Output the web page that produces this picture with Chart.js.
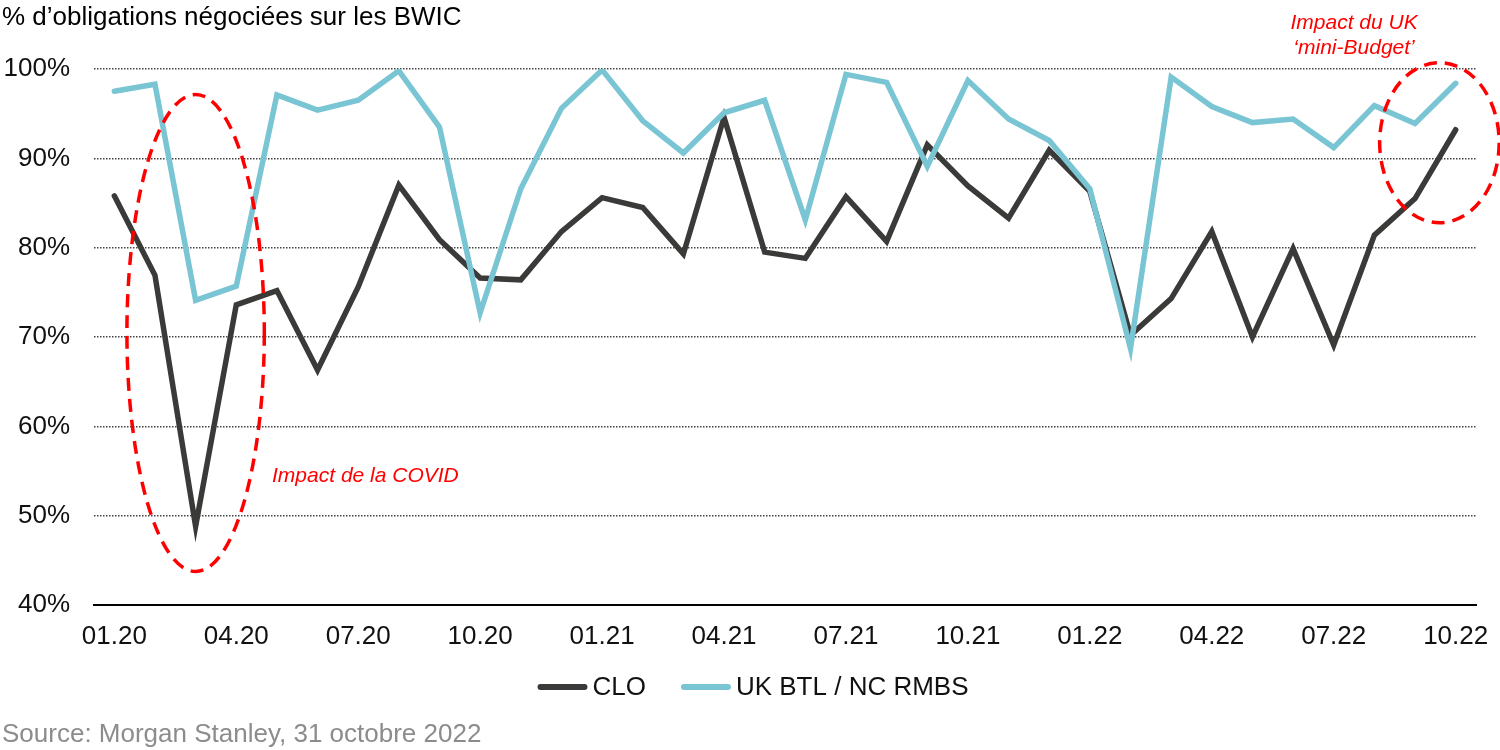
<!DOCTYPE html>
<html>
<head>
<meta charset="utf-8">
<script src="https://cdn.jsdelivr.net/npm/chart.js@4.4.0/dist/chart.umd.min.js"></script>
<style>
  html, body { margin: 0; padding: 0; background: #fff; }
</style>
</head>
<body>
<canvas id="bwicChart" width="1500" height="750"></canvas>
<script>
const months = [
    '01.20', '02.20', '03.20', '04.20', '05.20', '06.20', '07.20', '08.20', '09.20', '10.20', '11.20', '12.20',
    '01.21', '02.21', '03.21', '04.21', '05.21', '06.21', '07.21', '08.21', '09.21', '10.21', '11.21', '12.21',
    '01.22', '02.22', '03.22', '04.22', '05.22', '06.22', '07.22', '08.22', '09.22', '10.22'
];
const cloValues = [
    85.8, 76.9, 48.8, 73.6, 75.2, 66.3, 75.6, 87.0, 80.9, 76.6, 76.4, 81.8,
    85.6, 84.5, 79.3, 94.6, 79.5, 78.8, 85.7, 80.7, 91.5, 86.9, 83.3, 90.9,
    86.3, 70.2, 74.3, 81.8, 70.0, 79.9, 69.1, 81.4, 85.5, 93.2
];
const ukValues = [
    97.5, 98.3, 74.1, 75.7, 97.1, 95.4, 96.5, 99.8, 93.5, 72.7, 86.6, 95.6,
    99.9, 94.2, 90.6, 95.1, 96.5, 83.1, 99.4, 98.5, 89.1, 98.7, 94.4, 92.0,
    86.6, 68.7, 99.1, 95.8, 94.0, 94.4, 91.2, 95.9, 93.9, 98.4
];
const yTickValues = [40, 50, 60, 70, 80, 90, 100];
const seriesNames = ['CLO', 'UK BTL / NC RMBS'];

const titleText = '% d\u2019obligations négociées sur les BWIC';
const sourceText = 'Source: Morgan Stanley, 31 octobre 2022';

// callouts, in chart units (month index / percent)
const covidNote = { cx: 2, cy: 70.45, rx: 1.69, ry: 26.7, text: ['Impact de la COVID'], tx: 3.88, ty: [54.4], align: 'left' };
const budgetNote = { cx: 32.6, cy: 91.75, rx: 1.47, ry: 8.96, text: ['Impact du UK', '\u2018mini-Budget\u2019'], tx: 30.5, ty: [105.1, 102.35], align: 'center' };

const FONT = '"Liberation Sans", Arial, Helvetica, sans-serif';

const extrasPlugin = {
    id: 'extras',
    afterDraw(chart) {
        const ctx = chart.ctx;
        const xs = chart.scales.x;
        const ys = chart.scales.y;
        ctx.save();

        // title + source
        ctx.font = '26px ' + FONT;
        ctx.textAlign = 'left';
        ctx.textBaseline = 'alphabetic';
        ctx.fillStyle = '#000';
        ctx.fillText(titleText, 2, 25);
        ctx.fillStyle = '#8c8c8c';
        ctx.fillText(sourceText, 2, 742);

        // dashed red callouts
        [covidNote, budgetNote].forEach(n => {
            const cx = xs.getPixelForValue(n.cx);
            const cy = ys.getPixelForValue(n.cy);
            const rx = Math.abs(xs.getPixelForValue(n.cx + n.rx) - cx);
            const ry = Math.abs(ys.getPixelForValue(n.cy + n.ry) - cy);
            ctx.beginPath();
            ctx.setLineDash([13, 8]);
            ctx.lineWidth = 3.5;
            ctx.strokeStyle = '#ff0000';
            ctx.ellipse(cx, cy, rx, ry, 0, 0, Math.PI * 2);
            ctx.stroke();
            ctx.setLineDash([]);

            ctx.font = 'italic 21px ' + FONT;
            ctx.fillStyle = '#ff0000';
            ctx.textAlign = n.align;
            ctx.textBaseline = 'middle';
            n.text.forEach((t, i) => {
                ctx.fillText(t, xs.getPixelForValue(n.tx), ys.getPixelForValue(n.ty[i]));
            });
        });

        // legend
        ctx.font = '26px ' + FONT;
        ctx.textAlign = 'left';
        ctx.textBaseline = 'middle';
        const sw = 50, gap = 5, itemGap = 35, ly = 687;
        const sets = chart.data.datasets;
        let total = 0;
        sets.forEach((d, i) => {
            total += sw + gap + ctx.measureText(d.label).width + (i < sets.length - 1 ? itemGap : 0);
        });
        let lx = 753 - total / 2;
        sets.forEach(d => {
            ctx.beginPath();
            ctx.lineCap = 'round';
            ctx.lineWidth = 6;
            ctx.strokeStyle = d.borderColor;
            ctx.moveTo(lx + 3, ly);
            ctx.lineTo(lx + sw - 3, ly);
            ctx.stroke();
            ctx.fillStyle = '#111';
            ctx.fillText(d.label, lx + sw + gap, ly + 1);
            lx += sw + gap + ctx.measureText(d.label).width + itemGap;
        });

        ctx.restore();
    }
};

new Chart(document.getElementById('bwicChart').getContext('2d'), {
    type: 'line',
    data: {
        labels: months,
        datasets: [
            {
                label: seriesNames[0],
                data: cloValues,
                borderColor: '#3a3b39',
                borderWidth: 5.5,
                pointRadius: 0,
                tension: 0,
                borderCapStyle: 'round',
                order: 1
            },
            {
                label: seriesNames[1],
                data: ukValues,
                borderColor: '#7ac5d4',
                borderWidth: 5.5,
                pointRadius: 0,
                tension: 0,
                borderCapStyle: 'round',
                order: 0
            }
        ]
    },
    options: {
        responsive: false,
        animation: false,
        devicePixelRatio: 1,
        layout: { padding: { top: 69, right: 24, bottom: 85, left: 0 } },
        plugins: {
            legend: { display: false },
            tooltip: { enabled: false }
        },
        scales: {
            x: {
                offset: true,
                grid: { display: false, drawTicks: false },
                border: { display: true, color: '#000', width: 2 },
                ticks: {
                    autoSkip: false,
                    maxRotation: 0,
                    padding: 16,
                    color: '#111',
                    font: { family: FONT, size: 26 },
                    callback: function (val, i) {
                        return i % 3 === 0 ? this.getLabelForValue(val) : '';
                    }
                },
                afterFit: s => { s.height = 60; s.paddingLeft = 0; s.paddingRight = 0; }
            },
            y: {
                min: 40,
                max: 100,
                afterBuildTicks: s => { s.ticks = yTickValues.map(v => ({ value: v })); },
                grid: {
                    drawTicks: false,
                    lineWidth: 1.5,
                    color: c => (c.tick && c.tick.value === 40) ? 'rgba(0,0,0,0)' : '#444'
                },
                border: { display: false, dash: [1.5, 1.5] },
                ticks: {
                    padding: 24,
                    color: '#111',
                    font: { family: FONT, size: 26 },
                    callback: v => v + '%'
                },
                afterFit: s => { s.width = 94; }
            }
        }
    },
    plugins: [extrasPlugin]
});
</script>
</body>
</html>
